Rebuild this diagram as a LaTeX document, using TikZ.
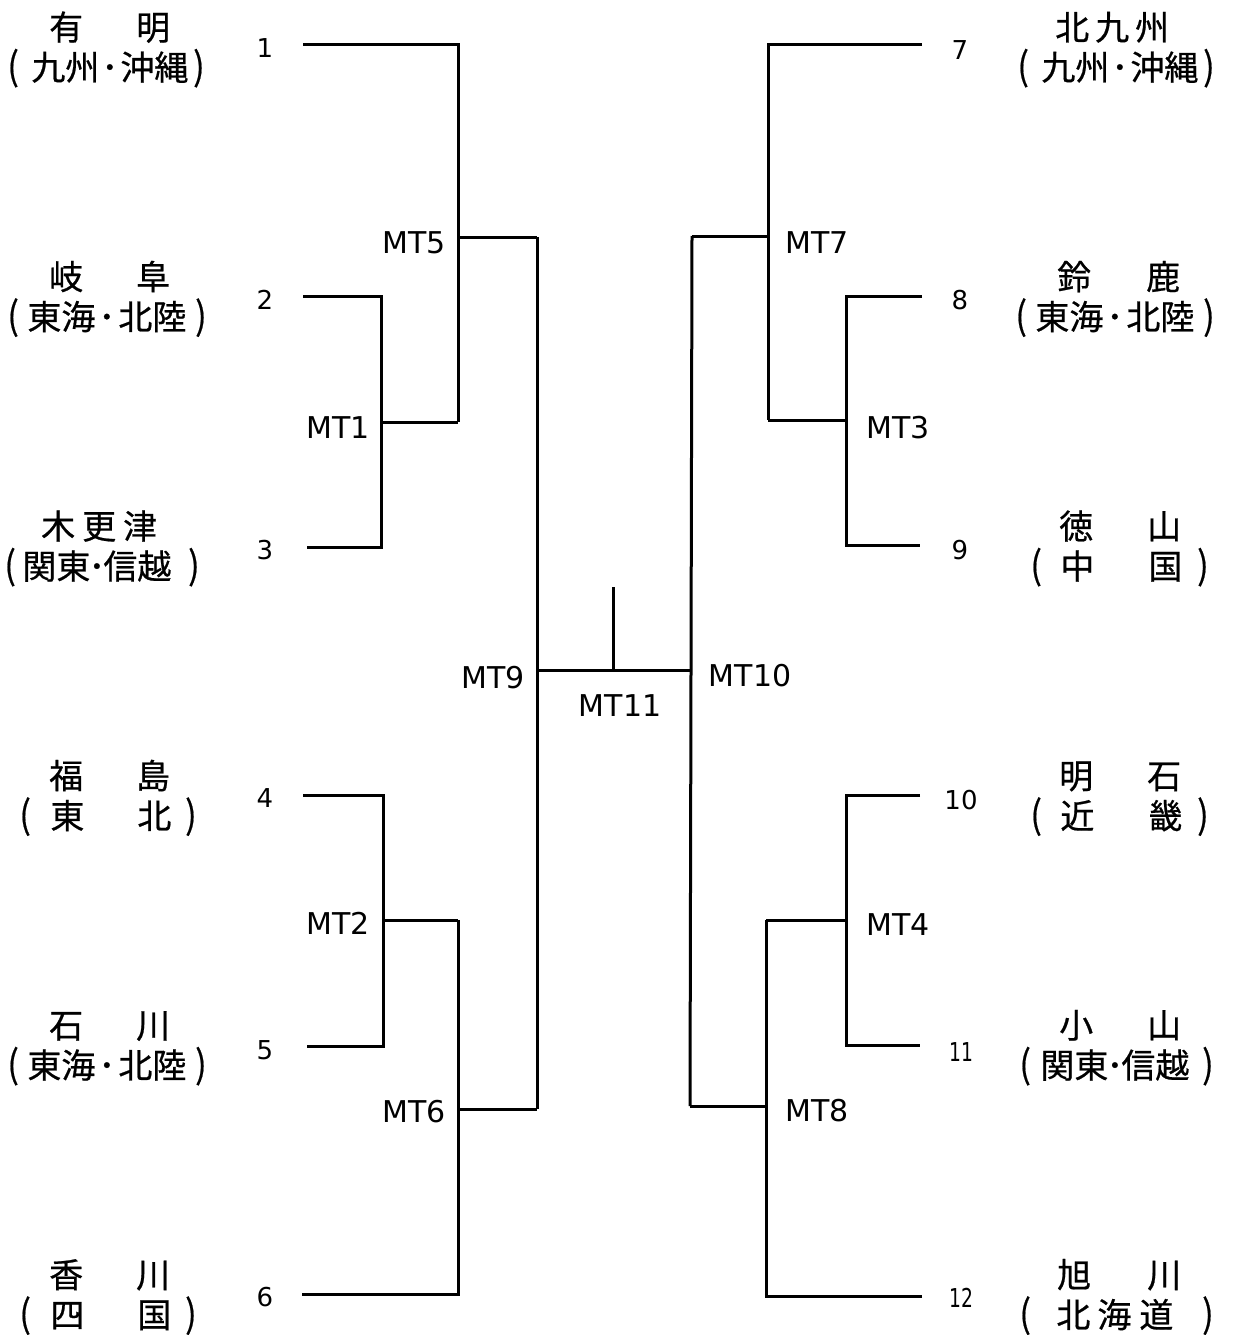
\documentclass[tikz,border=0pt]{standalone}
\usepackage{fontspec}
\setmainfont{DejaVu Sans}
\newfontfamily\cjk[FakeBold=0.6]{Noto Sans CJK JP}
\newcommand\LP{\scalebox{1}[1.12]{(}}
\newcommand\RP{\scalebox{1}[1.12]{)}}
\begin{document}
\begin{tikzpicture}[x=1pt,y=-1pt,
  br/.style={line width=3pt},
  num/.style={font=\fontsize{26}{30}\selectfont, inner sep=0},
  mt/.style={font=\fontsize{30}{34}\selectfont, inner sep=0},
  tm/.style={font=\cjk\fontsize{34}{40}\selectfont, inner sep=0, anchor=base west}]
\useasboundingbox (0,0) rectangle (1237,1335);
% ---------- team names, left ----------
\node[tm] (n1a) at (49,40)     {有\kern53pt 明};
\node[tm] (n1b) at (7.2,80)    {\LP\kern12.5pt 九州\kern2pt･\kern2pt 沖縄\kern4.8pt\RP};
\node[tm] (n2a) at (49,289.5)  {岐\kern53pt 阜};
\node[tm] (n2b) at (7.2,329.5) {\LP\kern8.5pt 東海\kern3pt･\kern3pt 北陸\kern8.8pt\RP};
\node[tm] (n3a) at (41,539)    {木\kern7pt 更\kern7pt 津};
\node[tm] (n3b) at (4.2,579)   {\LP\kern6.5pt 関東\kern-2pt･\kern-2pt 信越\kern16.8pt\RP};
\node[tm] (n4a) at (49,788.5)  {福\kern53pt 島};
\node[tm] (n4b) at (19.2,828.5){\LP\kern19.5pt 東\kern53pt 北\kern13.8pt\RP};
\node[tm] (n5a) at (49,1038)   {石\kern53pt 川};
\node[tm] (n5b) at (7.2,1078)  {\LP\kern8.5pt 東海\kern3pt･\kern3pt 北陸\kern8.8pt\RP};
\node[tm] (n6a) at (49,1287.5) {香\kern53pt 川};
\node[tm] (n6b) at (19.2,1327.5){\LP\kern19.5pt 四\kern53pt 国\kern13.8pt\RP};
% ---------- team names, right ----------
\node[tm] (n7a) at (1055,40)     {北\kern6pt 九\kern6pt 州};
\node[tm] (n7b) at (1017.2,80)   {\LP\kern12.5pt 九州\kern2pt･\kern2pt 沖縄\kern4.8pt\RP};
\node[tm] (n8a) at (1057,289.5)  {鈴\kern55pt 鹿};
\node[tm] (n8b) at (1015.2,329.5){\LP\kern8.5pt 東海\kern3pt･\kern3pt 北陸\kern8.8pt\RP};
\node[tm] (n9a) at (1059,539)    {徳\kern54pt 山};
\node[tm] (n9b) at (1030.2,579)  {\LP\kern18.5pt 中\kern54pt 国\kern14.8pt\RP};
\node[tm] (n10a) at (1059,788.5) {明\kern54pt 石};
\node[tm] (n10b) at (1030.2,828.5){\LP\kern18.5pt 近\kern54pt 畿\kern14.8pt\RP};
\node[tm] (n11a) at (1059,1038)  {小\kern54pt 山};
\node[tm] (n11b) at (1019.2,1078){\LP\kern9.5pt 関東\kern-2pt･\kern-2pt 信越\kern12.8pt\RP};
\node[tm] (n12a) at (1057,1287.5){旭\kern56pt 川};
\node[tm] (n12b) at (1019.2,1327.5){\LP\kern25.5pt 北\kern7pt 海\kern8pt 道\kern28.8pt\RP};
% ---------- seed numbers ----------
\node[num] (s1) at (265,48) {1};
\node[num] (s2) at (265,300) {2};
\node[num] (s3) at (265,550) {3};
\node[num] (s4) at (265,798) {4};
\node[num] (s5) at (265,1050) {5};
\node[num] (s6) at (265,1297) {6};
\node[num] (s7) at (960,50) {7};
\node[num] (s8) at (960,300) {8};
\node[num] (s9) at (960,550) {9};
\node[num] (s10) at (961,800) {10};
\node[num] (s11) at (961,1052) {\scalebox{0.72}[1]{11}};
\node[num] (s12) at (961,1298) {\scalebox{0.72}[1]{12}};
% ---------- match labels ----------
\node[mt] (mt5) at (414,243) {MT5};
\node[mt] (mt1) at (338,428) {MT1};
\node[mt] (mt2) at (338,923) {MT2};
\node[mt] (mt6) at (414,1112) {MT6};
\node[mt] (mt9) at (493,678) {MT9};
\node[mt] (mt11) at (620,706) {MT11};
\node[mt] (mt10) at (750,676) {MT10};
\node[mt] (mt7) at (817,243) {MT7};
\node[mt] (mt3) at (898,428) {MT3};
\node[mt] (mt4) at (898,925) {MT4};
\node[mt] (mt8) at (817,1111) {MT8};
% ---------- line end points ----------
\coordinate (e1) at (303,45);
\coordinate (e2) at (303,296);
\coordinate (e3) at (307,547);
\coordinate (e4) at (303,795);
\coordinate (e5) at (307,1046);
\coordinate (e6) at (302,1294);
\coordinate (e7) at (922,45);
\coordinate (e8) at (922,296);
\coordinate (e9) at (920,545);
\coordinate (e10) at (920,795);
\coordinate (e11) at (920,1045);
\coordinate (e12) at (922,1296);
\coordinate (j1) at (381,422);  \coordinate (j1r) at (458,422);
\coordinate (j5) at (458,237);  \coordinate (j5r) at (537,237);
\coordinate (j2) at (383,920);  \coordinate (j2r) at (458,920);
\coordinate (j6) at (458,1109); \coordinate (j6r) at (537,1109);
\coordinate (j9) at (537,670);
\coordinate (j3) at (846,420);  \coordinate (j3l) at (768,420);
\coordinate (j7) at (768,236);  \coordinate (j7l) at (692,236);
\coordinate (j4) at (846,920);  \coordinate (j4l) at (766,920);
\coordinate (j8) at (766,1106); \coordinate (j8l) at (690,1106);
\coordinate (j10) at (691,670);
\coordinate (j11) at (613,670); \coordinate (top) at (613,587);
% ---------- bracket ----------
\draw[br] (e2) -| (j1) |- (e3);
\draw[br] (j1) -- (j1r);
\draw[br] (e1) -| (j5) |- (j1r);
\draw[br] (j5) -- (j5r);
\draw[br] (e4) -| (j2) |- (e5);
\draw[br] (j2) -- (j2r);
\draw[br] (e6) -| (j6) |- (j2r);
\draw[br] (j6) -- (j6r);
\draw[br] (j5r) -- (j6r);
\draw[br] (e8) -| (j3) |- (e9);
\draw[br] (j3) -- (j3l);
\draw[br] (e7) -| (j7) |- (j3l);
\draw[br] (j7) -- (j7l);
\draw[br] (e10) -| (j4) |- (e11);
\draw[br] (j4) -- (j4l);
\draw[br] (e12) -| (j8) |- (j4l);
\draw[br] (j8) -- (j8l);
\draw[br] (j7l) -- (j8l);
\draw[br] (j9) -- (j10);
\draw[br] (top) -- (j11);
\end{tikzpicture}
\end{document}
